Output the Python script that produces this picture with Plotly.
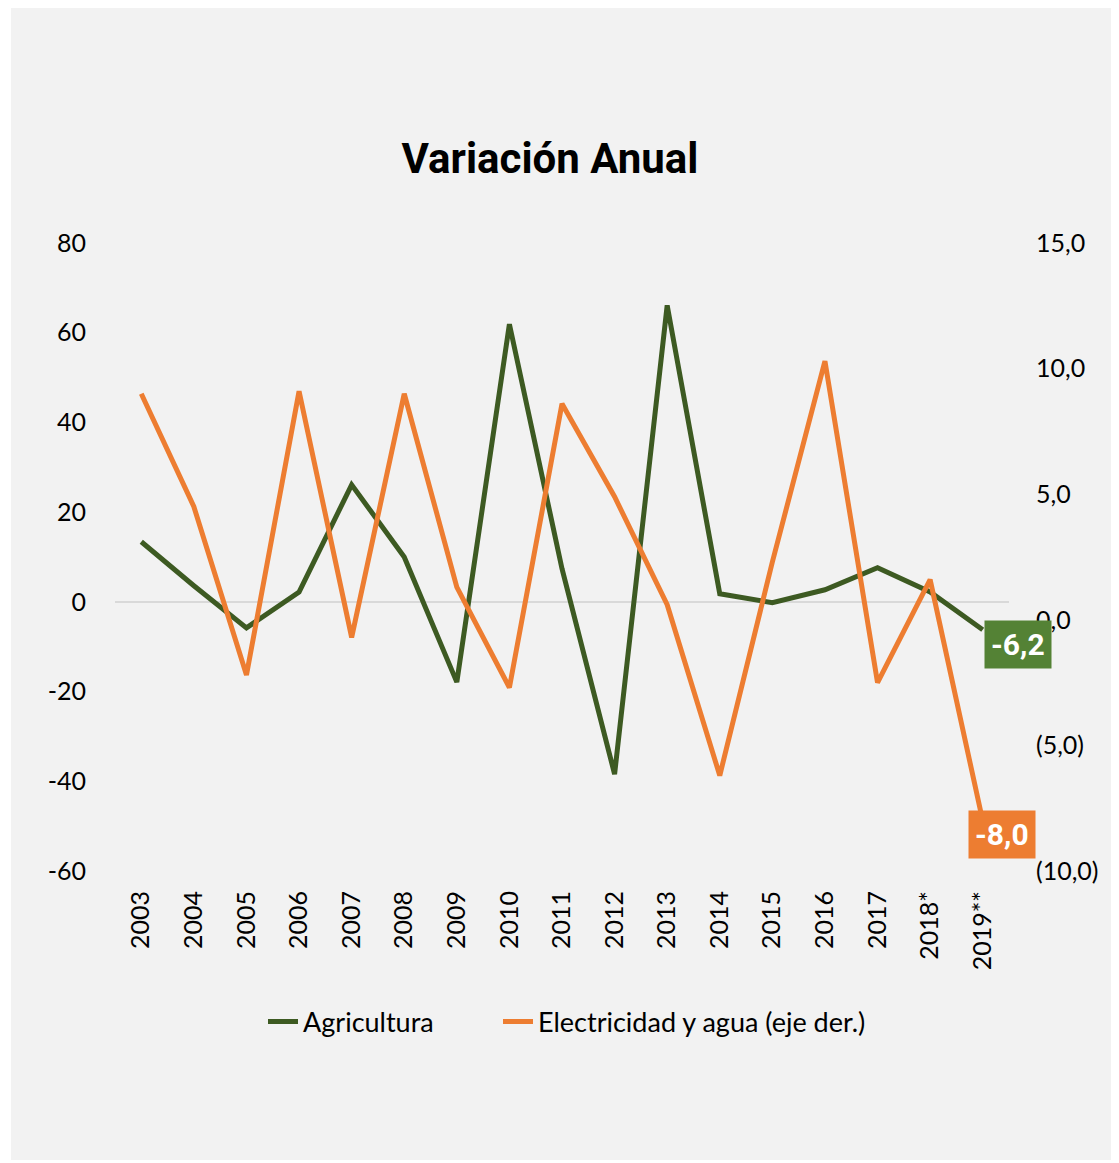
import plotly.graph_objects as go

years = ["2003", "2004", "2005", "2006", "2007", "2008", "2009", "2010", "2011",
         "2012", "2013", "2014", "2015", "2016", "2017", "2018*", "2019**"]
agricultura = [13.4, 3.6, -5.8, 2.2, 26.1, 10.0, -17.9, 61.9, 7.4,
               -38.4, 66.1, 1.8, -0.2, 2.7, 7.6, 2.2, -6.2]
electricidad = [9.0, 4.5, -2.2, 9.1, -0.7, 9.0, 1.3, -2.7, 8.6,
                4.9, 0.6, -6.2, 2.3, 10.3, -2.5, 1.6, -8.0]

left_ticks = [-60, -40, -20, 0, 20, 40, 60, 80]
left_text = ["-60", "-40", "-20", "0", "20", "40", "60", "80"]
right_ticks = [-10, -5, 0, 5, 10, 15]
right_text = ["(10,0)", "(5,0)", "0,0", "5,0", "10,0", "15,0"]

GREEN = "#3d5a22"
ORANGE = "#ed7d31"
LBL_GREEN = "#548235"

# page body has an 8px margin, so the figure sits at (8, 8)
OFF = 8
W, H = 1119 - OFF, 1163 - OFF
L, R, T, B = 115 - OFF, 110, 243 - OFF, 292
pw = W - L - R
ph = H - T - B

def fmt(v):
    return f"{v:.1f}".replace(".", ",")

fig = go.Figure()
fig.add_trace(go.Scatter(x=years, y=agricultura, name="Agricultura", mode="lines",
                         line=dict(color=GREEN, width=5), yaxis="y", legend="legend"))
fig.add_trace(go.Scatter(x=years, y=electricidad, name="Electricidad y agua (eje der.)",
                         mode="lines", line=dict(color=ORANGE, width=5), yaxis="y2",
                         legend="legend2"))

tick_font = dict(family="Lato, sans-serif", size=25, color="#000000")
cond = "Roboto, sans-serif"
leg_font = dict(family="Lato, sans-serif", size=27, color="#000000")

def leg(xpage):
    return dict(orientation="h", x=(xpage - 7 - OFF) / W, xref="container", xanchor="left",
                y=1 - (1022 - OFF) / H, yref="container", yanchor="middle",
                font=leg_font, bgcolor="rgba(0,0,0,0)")

fig.update_layout(
    width=W, height=H,
    margin=dict(l=L, r=R, t=T, b=B, pad=0),
    paper_bgcolor="#ffffff",
    plot_bgcolor="rgba(0,0,0,0)",
    title=dict(text="<b>Variación Anual</b>", x=(550 - OFF) / W, xref="container", xanchor="center",
               y=1 - (158 - OFF) / H, yref="container", yanchor="middle",
               font=dict(family=cond, size=42, color="#000000")),
    xaxis=dict(type="category", range=[-0.5, 16.5], showgrid=False, zeroline=False,
               showline=False, ticks="", tickangle=-90, tickfont=tick_font,
               ticklabelstandoff=14),
    yaxis=dict(range=[-60, 80], tickvals=left_ticks, ticktext=left_text, showgrid=False,
               zeroline=True, zerolinecolor="#d9d9d9", zerolinewidth=2, showline=False,
               ticks="", tickfont=tick_font, ticklabelstandoff=28),
    yaxis2=dict(range=[-10, 15], overlaying="y", side="right", tickvals=right_ticks,
                ticktext=right_text, showgrid=False, zeroline=False, showline=False,
                ticks="", tickfont=tick_font, ticklabelstandoff=26),
    legend=leg(270),
    legend2=leg(505),
    showlegend=True,
)

# grey background panel
fig.add_shape(type="rect", xref="paper", yref="paper",
              x0=(11 - OFF - L) / pw, x1=(W + 10 - L) / pw,
              y0=(T + ph - (1160 - OFF)) / ph, y1=(T + ph + 10) / ph,
              fillcolor="#f2f2f2", line=dict(width=0), layer="below")
fig.add_shape(type="rect", xref="paper", yref="paper",
              x0=(11 - OFF - L) / pw, x1=(W + 10 - L) / pw,
              y0=(T + ph - (6 - OFF)) / ph, y1=(T + ph + 10) / ph,
              fillcolor="#ffffff", line=dict(width=0), layer="below")

lab_font = dict(family=cond, size=30, color="#ffffff")
fig.add_annotation(x=years[-1], y=agricultura[-1], xref="x", yref="y",
                   text=f"<b>{fmt(agricultura[-1])}</b>", showarrow=False,
                   xanchor="left", yanchor="middle", xshift=1, yshift=-15,
                   bgcolor=LBL_GREEN, font=lab_font, borderpad=6)
fig.add_annotation(x=years[-1], y=electricidad[-1], xref="x", yref="y2",
                   text=f"<b>{fmt(electricidad[-1])}</b>", showarrow=False,
                   xanchor="left", yanchor="middle", xshift=-15, yshift=-14,
                   bgcolor=ORANGE, font=lab_font, borderpad=6)

fig.write_html("out.html")
